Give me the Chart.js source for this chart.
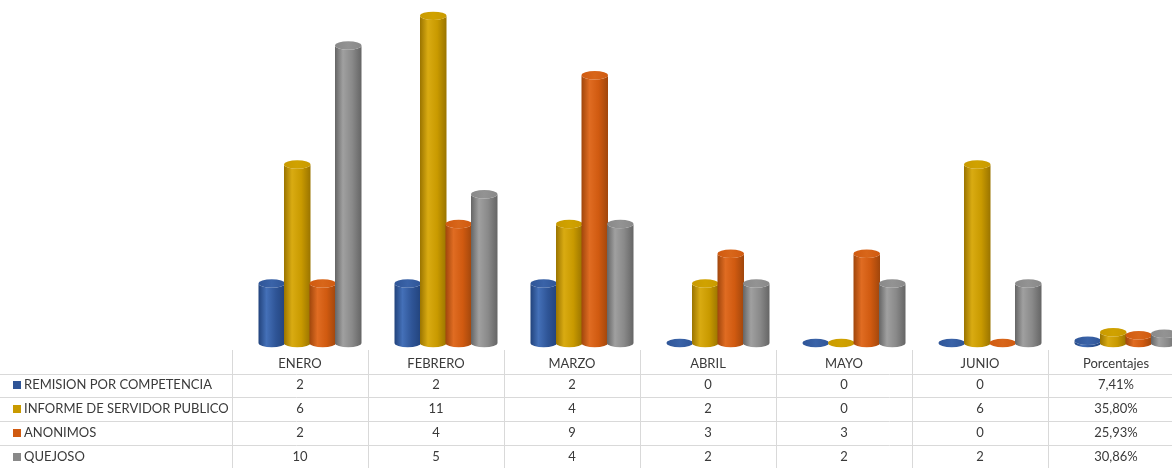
<!DOCTYPE html>
<html>
<head>
<meta charset="utf-8">
<script src="https://cdn.jsdelivr.net/npm/chart.js@4.4.1/dist/chart.umd.min.js"></script>
<style>
    html, body { margin: 0; padding: 0; background: #ffffff; overflow: hidden; }
    #wrap { position: relative; width: 1186px; height: 468px; }
</style>
</head>
<body>
<div id="wrap"><canvas id="chart"></canvas></div>
<script>
const categories = ['ENERO', 'FEBRERO', 'MARZO', 'ABRIL', 'MAYO', 'JUNIO', 'Porcentajes'];
const seriesNames = ['REMISION POR COMPETENCIA', 'INFORME DE SERVIDOR PUBLICO', 'ANONIMOS', 'QUEJOSO'];
const remision = [2, 2, 2, 0, 0, 0];
const informe = [6, 11, 4, 2, 0, 6];
const anonimos = [2, 4, 9, 3, 3, 0];
const quejoso = [10, 5, 4, 2, 2, 2];
const porcentajes = [7.41, 35.80, 25.93, 30.86];

const palette = [
    { dark: '#22437c', mid: '#2f5597', light: '#4470b8', top: '#3a63a8' },
    { dark: '#9a7400', mid: '#c99a00', light: '#d9ab12', top: '#d0a200' },
    { dark: '#a0460c', mid: '#d05a10', light: '#e06c22', top: '#d8661a' },
    { dark: '#656565', mid: '#898989', light: '#a0a0a0', top: '#939393' },
];

const monthly = [remision, informe, anonimos, quejoso];

function pctText(v) {
    return v.toFixed(2).replace('.', ',') + '%';
}

function drawCylinder(ctx, cx, w, top, base, c) {
    const rx = w / 2;
    const ry = Math.max(3, w * 0.16);
    const grad = ctx.createLinearGradient(cx - rx, 0, cx + rx, 0);
    grad.addColorStop(0, c.dark);
    grad.addColorStop(0.3, c.light);
    grad.addColorStop(0.65, c.mid);
    grad.addColorStop(1, c.dark);

    ctx.beginPath();
    ctx.moveTo(cx - rx, top);
    ctx.lineTo(cx - rx, base);
    ctx.ellipse(cx, base, rx, ry, 0, Math.PI, 0, true);
    ctx.lineTo(cx + rx, top);
    ctx.ellipse(cx, top, rx, ry, 0, 0, Math.PI, false);
    ctx.closePath();
    ctx.fillStyle = grad;
    ctx.fill();

    const topGrad = ctx.createLinearGradient(cx - rx, 0, cx + rx, 0);
    topGrad.addColorStop(0, c.mid);
    topGrad.addColorStop(0.5, c.top);
    topGrad.addColorStop(1, c.mid);
    ctx.beginPath();
    ctx.ellipse(cx, top, rx, ry, 0, 0, Math.PI * 2);
    ctx.fillStyle = topGrad;
    ctx.fill();
}

const cylinderPlugin = {
    id: 'cylinders',
    afterDatasetsDraw(chart) {
        const ctx = chart.ctx;
        ctx.save();
        chart.data.datasets.forEach((ds, i) => {
            const meta = chart.getDatasetMeta(i);
            meta.data.forEach((bar) => {
                drawCylinder(ctx, bar.x + 10, bar.width + 1, bar.y, bar.base, palette[i]);
            });
        });
        ctx.restore();
    },
};

const tablePlugin = {
    id: 'dataTable',
    afterDraw(chart) {
        const ctx = chart.ctx;
        const x = chart.scales.x;
        const left = chart.chartArea.left;
        const colW = (chart.chartArea.right - left) / categories.length;
        const headerY = 364;
        const rowY = [385, 409, 433, 457];
        const lines = [374, 397, 421, 445];

        ctx.save();
        ctx.strokeStyle = '#d9d9d9';
        ctx.lineWidth = 1;
        lines.forEach((y) => {
            ctx.beginPath();
            ctx.moveTo(0, y + 0.5);
            ctx.lineTo(chart.width, y + 0.5);
            ctx.stroke();
        });
        for (let i = 0; i <= categories.length; i++) {
            const lx = Math.round(left + colW * i) + 0.5;
            ctx.beginPath();
            ctx.moveTo(lx, 350);
            ctx.lineTo(lx, 468);
            ctx.stroke();
        }

        ctx.font = '13px Lato, "Open Sans", sans-serif';
        ctx.fillStyle = '#3a3a3a';
        ctx.textBaseline = 'middle';
        ctx.textAlign = 'center';
        categories.forEach((cat, i) => {
            ctx.fillText(cat, x.getPixelForValue(i), headerY);
        });

        seriesNames.forEach((name, r) => {
            ctx.fillStyle = palette[r].mid;
            ctx.fillRect(13, rowY[r] - 4, 8, 8);
            ctx.fillStyle = '#3a3a3a';
            ctx.textAlign = 'left';
            ctx.fillText(name, 24, rowY[r]);
            ctx.textAlign = 'center';
            monthly[r].forEach((v, i) => {
                ctx.fillText(String(v), x.getPixelForValue(i), rowY[r]);
            });
            ctx.fillText(pctText(porcentajes[r]), x.getPixelForValue(6), rowY[r]);
        });
        ctx.restore();
    },
};

const datasets = seriesNames.map((name, i) => ({
    label: name,
    data: monthly[i].concat([porcentajes[i] / 100]),
    backgroundColor: 'rgba(0,0,0,0)',
    borderWidth: 0,
    categoryPercentage: 0.75,
    barPercentage: 1.0,
}));

new Chart(document.getElementById('chart'), {
    type: 'bar',
    data: { labels: categories, datasets },
    options: {
        responsive: true,
        maintainAspectRatio: false,
        animation: false,
        layout: { padding: { left: 232, right: 2, top: 1, bottom: 125 } },
        plugins: { legend: { display: false }, tooltip: { enabled: false } },
        scales: {
            x: { display: false, grid: { display: false } },
            y: { display: false, min: 0, max: 11.5, grid: { display: false } },
        },
    },
    plugins: [cylinderPlugin, tablePlugin],
});
</script>
</body>
</html>
